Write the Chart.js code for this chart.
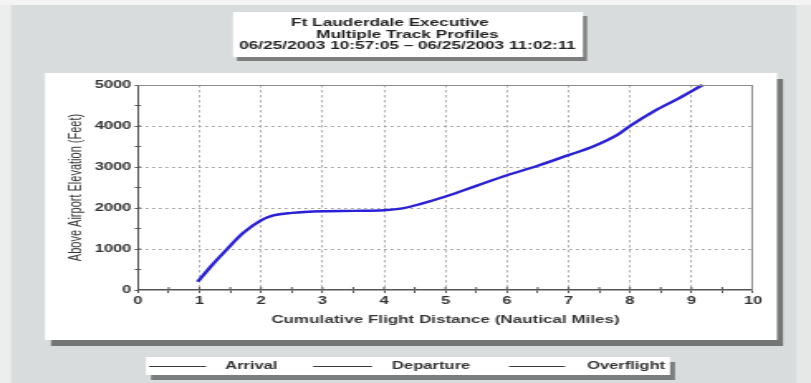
<!DOCTYPE html>
<html>
<head>
<meta charset="utf-8">
<title>Ft Lauderdale Executive – Multiple Track Profiles</title>
<script src="https://cdn.jsdelivr.net/npm/chart.js@4/dist/chart.umd.min.js"></script>
<style>
  html, body { margin: 0; padding: 0; background: #d9dcdc; overflow: hidden; }
  canvas { display: block; }
</style>
</head>
<body>
<!-- The drawing surface is 490 units wide and shown 811px wide (wide-aspect print layout). -->
<canvas id="profile" width="490" height="383" style="width:811px;height:383px"></canvas>
<script>
// ---- Text ----
const titleLines = [
  'Ft Lauderdale Executive',
  'Multiple Track Profiles',
  '06/25/2003 10:57:05 \u2013 06/25/2003 11:02:11'
];
const xAxisTitle = 'Cumulative Flight Distance (Nautical Miles)';
const yAxisTitle = 'Above Airport Elevation (Feet)';
const legendLabels = ['Arrival', 'Departure', 'Overflight'];

// ---- Axis ranges / ticks ----
const xRange = [0, 10];
const xMajorStep = 1;
const xMinorStep = 0.5;
const yRange = [0, 5000];
const yMajorStep = 1000;
const yMinorStep = 500;

// ---- Track profile (distance in NM, height in ft) ----
const distanceNm  = [0.97, 1.2, 1.45, 1.7, 2.0, 2.2, 2.5, 3.0, 3.5, 4.0, 4.3, 4.6, 5.0, 5.5, 6.0, 6.5, 7.0, 7.4, 7.8, 8.0, 8.4, 8.8, 9.18];
const elevationFt = [200, 600, 1000, 1380, 1700, 1820, 1880, 1920, 1930, 1945, 1990, 2100, 2280, 2540, 2800, 3030, 3290, 3500, 3790, 4000, 4370, 4680, 5000];

// Horizontal page pixels -> canvas units
const SX = 811 / 490;
const px = v => v / SX;

const FONT = "'Liberation Sans', Arial, Helvetica, sans-serif";

function shadowBox(ctx, x0, y0, x1, y1, depth, shade) {
  // drop shadow (right and bottom), then the white box
  ctx.fillStyle = shade;
  ctx.fillRect(px(x0 + depth), y0 + depth, px(x1 + depth) - px(x0 + depth), y1 - y0);
  ctx.fillStyle = '#ffffff';
  ctx.fillRect(px(x0), y0, px(x1) - px(x0), y1 - y0);
}

const framePlugin = {
  id: 'frame',
  beforeDraw(chart) {
    const ctx = chart.ctx;
    ctx.save();
    // page background
    ctx.fillStyle = '#d9dcdc';
    ctx.fillRect(0, 0, chart.width, chart.height);
    ctx.fillStyle = '#eceeee';
    ctx.fillRect(0, 0, px(11), chart.height);
    ctx.fillStyle = '#e6e8e8';
    ctx.fillRect(px(796), 0, chart.width - px(796), chart.height);
    ctx.fillStyle = '#f4f4f4';
    ctx.fillRect(0, 0, chart.width, 5);

    // chart panel
    shadowBox(ctx, 45, 73, 777, 340, 6, '#747676');
    // title panel
    shadowBox(ctx, 233, 12, 583, 57, 4, '#7c7e7e');
    // legend panel
    shadowBox(ctx, 146, 357, 670, 375, 5, '#7c7e7e');

    // title text
    ctx.fillStyle = '#222222';
    ctx.font = 'bold 10.4px ' + FONT;
    ctx.textAlign = 'center';
    ctx.textBaseline = 'middle';
    const titleX = [390, 407.5, 407.5];
    const titleY = [23.5, 35, 46.5];
    titleLines.forEach((t, i) => ctx.fillText(t, px(titleX[i]), titleY[i]));

    // legend entries
    const lineFrom = [149, 313, 509];
    const lineTo = [206, 372, 565];
    const textAt = [225, 392, 587];
    const ly = 366;
    ctx.strokeStyle = '#3a3a3a';
    ctx.lineWidth = 1;
    ctx.font = 'bold 10px ' + FONT;
    ctx.textAlign = 'left';
    ctx.fillStyle = '#333333';
    legendLabels.forEach((lab, i) => {
      ctx.beginPath();
      ctx.moveTo(px(lineFrom[i]), ly + 0.5);
      ctx.lineTo(px(lineTo[i]), ly + 0.5);
      ctx.stroke();
      ctx.fillText(lab, px(textAt[i]), ly + 0.5);
    });
    ctx.restore();
  },
  afterDatasetsDraw(chart) {
    const {ctx, chartArea: a, scales} = chart;
    ctx.save();
    // top and right edges of the plot box
    ctx.strokeStyle = '#8c8c8c';
    ctx.lineWidth = 1;
    ctx.beginPath();
    ctx.moveTo(a.left, a.top + 0.5);
    ctx.lineTo(a.right, a.top + 0.5);
    ctx.moveTo(a.right - 0.5, a.top);
    ctx.lineTo(a.right - 0.5, a.bottom);
    ctx.stroke();
    // inner halves of the tick marks
    ctx.strokeStyle = '#555555';
    ctx.beginPath();
    scales.x.ticks.forEach(t => {
      const x = scales.x.getPixelForValue(t.value);
      if (t.value <= xRange[0] || t.value >= xRange[1]) return;
      ctx.moveTo(x, a.bottom);
      ctx.lineTo(x, a.bottom - 3);
    });
    scales.y.ticks.forEach(t => {
      const y = scales.y.getPixelForValue(t.value);
      if (t.value <= yRange[0] || t.value >= yRange[1]) return;
      ctx.moveTo(a.left, y);
      ctx.lineTo(a.left + px(3), y);
    });
    ctx.stroke();
    ctx.restore();
  }
};

const isMajor = (v, step) => Math.abs(v / step - Math.round(v / step)) < 1e-6;

new Chart(document.getElementById('profile'), {
  type: 'line',
  data: {
    datasets: [{
      label: 'Departure',
      data: distanceNm.map((d, i) => ({x: d, y: elevationFt[i]})),
      borderColor: '#2a20d6',
      borderWidth: 2.4,
      pointRadius: 0,
      fill: false,
      cubicInterpolationMode: 'monotone',
      clip: 2
    }]
  },
  options: {
    responsive: false,
    animation: false,
    devicePixelRatio: 1,
    layout: {
      padding: {left: px(60), top: 85, right: 490 - px(753), bottom: 53}
    },
    plugins: {
      legend: {display: false},
      title: {display: false},
      tooltip: {enabled: false}
    },
    scales: {
      x: {
        type: 'linear',
        min: xRange[0],
        max: xRange[1],
        afterFit: s => { s.height = 40; },
        ticks: {
          stepSize: xMinorStep,
          autoSkip: false,
          maxRotation: 0,
          padding: 2,
          color: '#333333',
          font: {family: FONT, size: 10, weight: 'bold'},
          callback: v => isMajor(v, xMajorStep) ? String(v) : ''
        },
        grid: {
          color: c => (c.tick && isMajor(c.tick.value, xMajorStep) && c.tick.value > xRange[0] && c.tick.value < xRange[1]) ? '#a0a0a0' : 'rgba(0,0,0,0)',
          lineWidth: 0.8,
          tickColor: '#555555',
          tickLength: 3,
          tickWidth: 1
        },
        border: {color: '#555555', width: 1.5, dash: [2.5, 2.5]},
        title: {
          display: true,
          text: xAxisTitle,
          color: '#383838',
          font: {family: FONT, size: 10.3, weight: 'bold'},
          padding: {top: 0, bottom: 3.8}
        }
      },
      y: {
        type: 'linear',
        min: yRange[0],
        max: yRange[1],
        afterFit: s => { s.width = px(138) - px(60); },
        ticks: {
          stepSize: yMinorStep,
          autoSkip: false,
          padding: 2,
          color: '#333333',
          font: {family: FONT, size: 10, weight: 'bold'},
          callback: v => isMajor(v, yMajorStep) ? String(v) : ''
        },
        grid: {
          color: c => (c.tick && isMajor(c.tick.value, yMajorStep) && c.tick.value > yRange[0] && c.tick.value < yRange[1]) ? '#999999' : 'rgba(0,0,0,0)',
          lineWidth: 1,
          tickColor: '#555555',
          tickLength: 2,
          tickWidth: 1
        },
        border: {color: '#555555', width: 1, dash: [1.6, 2.4]},
        title: {
          display: true,
          text: yAxisTitle,
          color: '#383838',
          font: {family: FONT, size: 11},
          padding: {top: px(76) - px(60) - 6.6, bottom: 0}
        }
      }
    }
  },
  plugins: [framePlugin]
});
</script>
</body>
</html>
